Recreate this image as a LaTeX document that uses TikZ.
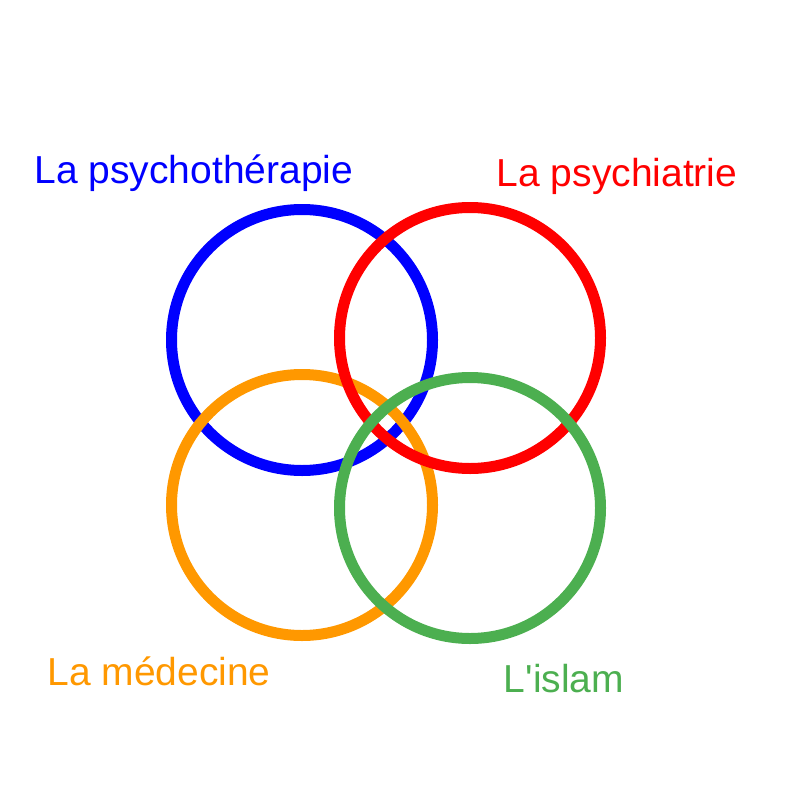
\documentclass[tikz,border=0pt]{standalone}
\usepackage{fontspec}
\setmainfont{Liberation Sans}
\newfontfamily\plainsans{Liberation Sans}
\usepackage{xcolor}
\usepackage{tikz}
\definecolor{therapyblue}{HTML}{0000FF}
\definecolor{psyred}{HTML}{FF0000}
\definecolor{medorange}{HTML}{FF9800}
\definecolor{islamgreen}{HTML}{4CAF50}

\begin{document}
\begin{tikzpicture}[
  x=1pt, y=-1pt,
  ring/.style={circle, minimum size=261pt, inner sep=0pt, line width=11pt},
  label/.style={anchor=base, font=\plainsans\fontsize{39}{47}\selectfont, inner sep=0pt}
]
\useasboundingbox (0,0) rectangle (800,800);
% circles, drawn in stacking order
\node[ring, draw=therapyblue] (therapy) at (302,340) {};
\node[ring, draw=medorange] (medicine) at (302,505) {};
\node[ring, draw=psyred] (psychiatry) at (470,338) {};
\node[ring, draw=islamgreen] (islam) at (470,508) {};

\node[label, text=therapyblue] (therapylbl) at (194,183) {La psychothérapie};
\node[label, text=psyred] (psychiatrylbl) at (617,186) {La psychiatrie};
\node[label, text=medorange] (medicinelbl) at (159,685) {La médecine};
\node[label, text=islamgreen] (islamlbl) at (564,692) {L'islam};
\end{tikzpicture}
\end{document}
